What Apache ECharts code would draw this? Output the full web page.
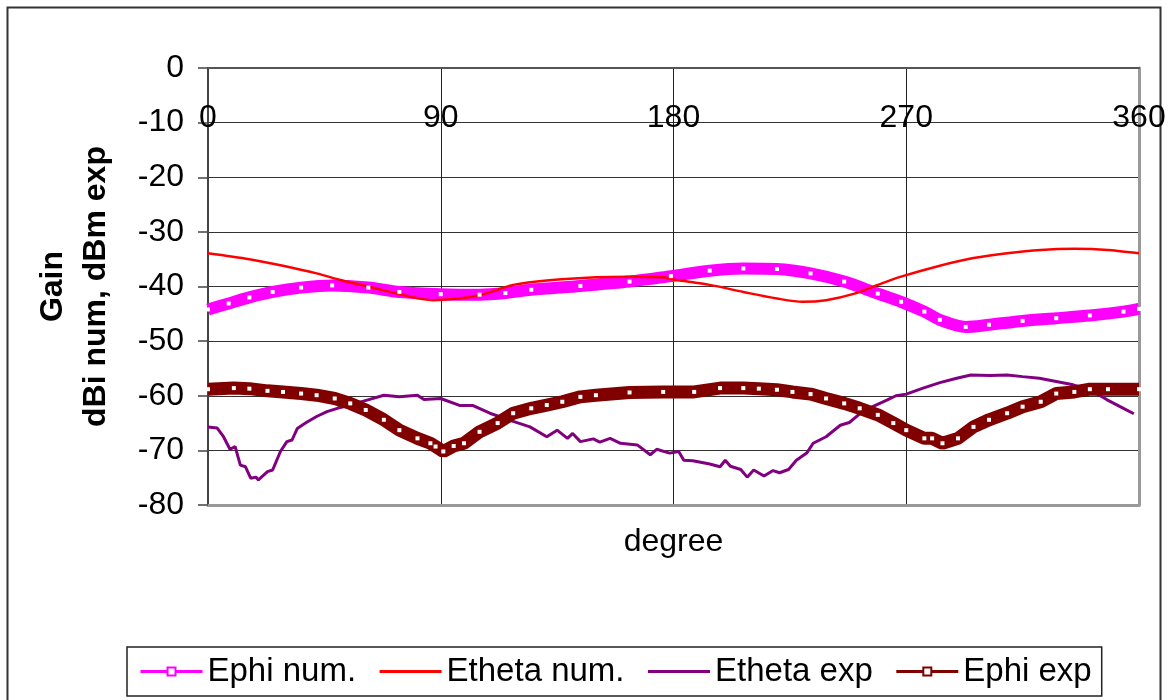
<!DOCTYPE html>
<html><head><meta charset="utf-8">
<script src="https://cdn.jsdelivr.net/npm/echarts@6/dist/echarts.min.js"></script>
<style>html,body{margin:0;padding:0;background:#fff}#c{width:1172px;height:700px}</style>
</head><body><div id="c"></div>
<script>
// ---- data ----
const seriesNames = ['Ephi num.', 'Etheta num.', 'Etheta exp', 'Ephi exp'];
const xTickLabels = [0, 90, 180, 270, 360];
const yTickLabels = [0, -10, -20, -30, -40, -50, -60, -70, -80];

const ephiNumDeg = [0, 8, 16, 25, 36, 48, 62, 74, 90, 105, 115, 125, 144, 163, 179, 194, 207, 220, 233, 246, 259, 268, 277, 283, 293, 302, 315, 328, 341, 354, 360];
const ephiNumVal = [-44.2, -43.1, -42.0, -41.0, -40.2, -39.8, -40.2, -41.0, -41.4, -41.5, -41.2, -40.6, -39.9, -39.1, -38.1, -37.1, -36.7, -36.8, -37.6, -39.1, -41.3, -42.8, -44.6, -46.1, -47.4, -47.0, -46.3, -45.8, -45.3, -44.6, -44.1];

const ethetaNumDeg = [0, 16, 29, 42, 52, 62, 74, 87, 95, 105, 112, 118, 131, 150, 163, 176, 180, 194, 207, 220, 230, 239, 250, 259, 268, 283, 296, 309, 322, 335, 348, 360];
const ethetaNumVal = [-33.9, -35.0, -36.2, -37.6, -38.9, -40.0, -41.4, -42.5, -42.3, -41.6, -40.6, -39.7, -38.9, -38.3, -38.2, -38.3, -38.7, -39.7, -41.0, -42.2, -42.8, -42.5, -41.3, -39.7, -38.2, -36.2, -34.8, -33.9, -33.3, -33.1, -33.3, -33.9];

const ethetaExpDeg = [0, 3.5, 6, 8.5, 10.5, 12.5, 14.5, 16.5, 18.5, 19.5, 23, 25, 28, 30.5, 32.5, 34.5, 38, 42, 46, 50, 55, 61.5, 68, 74, 81, 83.5, 90, 97.5, 102.5, 109, 118, 124.5, 131, 135, 139, 141, 144, 149, 151.5, 155.5, 159.5, 166, 171, 173.5, 178.5, 182, 184, 187.5, 194, 198, 200, 202, 206, 208.5, 211, 215, 218.5, 221, 224.5, 227.5, 231.5, 234, 239, 244.5, 248, 252, 257, 262.5, 266, 270, 276.5, 283, 289.5, 295, 302.5, 309, 315, 321.5, 328, 334.5, 341, 347.5, 354, 358];
const ethetaExpVal = [-65.7, -65.9, -67.5, -69.8, -69.3, -72.7, -73.0, -75.1, -74.9, -75.4, -73.9, -73.6, -70.2, -68.4, -68.1, -66.0, -64.9, -63.8, -62.9, -62.3, -61.7, -60.8, -59.9, -60.2, -59.9, -60.7, -60.5, -61.8, -61.8, -63.2, -64.7, -65.7, -67.5, -66.3, -67.8, -66.9, -68.4, -67.9, -68.5, -67.8, -68.7, -69.0, -70.8, -69.8, -70.5, -70.2, -71.8, -71.9, -72.5, -73.0, -71.8, -72.9, -73.5, -74.9, -73.6, -74.7, -73.7, -74.1, -73.5, -71.8, -70.5, -68.7, -67.5, -65.4, -64.9, -63.3, -62.0, -60.8, -60.0, -59.7, -58.6, -57.6, -56.8, -56.2, -56.3, -56.2, -56.5, -56.8, -57.4, -58.0, -58.9, -60.7, -62.3, -63.3];

const ephiExpDeg = [0, 10, 16, 23, 29, 36, 42, 49, 55, 61, 68, 74, 81, 86, 88, 91, 95, 99, 105, 112, 118, 125, 131, 137, 144, 150, 163, 176, 188, 198, 207, 213, 220, 226, 233, 239, 246, 252, 259, 265, 270, 277, 280, 284, 290, 296, 302, 309, 315, 322, 328, 335, 341, 348, 360];
const ephiExpVal = [-58.8, -58.6, -58.7, -59.1, -59.3, -59.6, -59.9, -60.5, -61.4, -62.6, -64.4, -66.3, -67.8, -68.7, -69.3, -70.2, -69.2, -68.7, -66.6, -65.0, -63.2, -62.3, -61.7, -61.1, -60.2, -59.9, -59.4, -59.3, -59.3, -58.6, -58.6, -58.7, -58.9, -59.3, -59.7, -60.5, -61.4, -62.3, -63.5, -65.0, -66.3, -67.8, -67.8, -68.7, -67.8, -65.7, -64.4, -63.2, -62.0, -61.1, -59.6, -59.3, -58.8, -58.8, -58.8];

// ---- chart ----
const zip = (a, b) => a.map((d, i) => [d, b[i]]);
const FONT = 'Liberation Sans, Arial, sans-serif';
const chart = echarts.init(document.getElementById('c'), null, {renderer: 'canvas'});

const option = {
  animation: false,
  backgroundColor: '#fff',
  textStyle: {fontFamily: FONT, color: '#000'},
  graphic: [{
    type: 'rect', silent: true,
    shape: {x: 7.5, y: 7.5, width: 1153, height: 700},
    style: {fill: null, stroke: '#333', lineWidth: 2}
  }],
  grid: {left: 208, right: 33, top: 68, bottom: 195, containLabel: false},
  legend: {
    left: 127, top: 647, orient: 'horizontal',
    padding: [8, 10, 8, 12],
    borderColor: '#222', borderWidth: 1.5,
    itemWidth: 62, itemHeight: 10, itemGap: 22,
    textStyle: {fontSize: 33, color: '#000', fontFamily: FONT},
    data: [
      {name: seriesNames[0], itemStyle: {color: '#fff', borderColor: '#FF00FF', borderWidth: 2}, lineStyle: {width: 3, color: '#FF00FF'}},
      {name: seriesNames[1], itemStyle: {opacity: 0}, lineStyle: {width: 3, color: '#FF0000'}},
      {name: seriesNames[2], itemStyle: {opacity: 0}, lineStyle: {width: 3, color: '#800080'}},
      {name: seriesNames[3], itemStyle: {color: '#fff', borderColor: '#800000', borderWidth: 2}, lineStyle: {width: 3, color: '#800000'}}
    ]
  },
  xAxis: [{
    type: 'value', position: 'top', min: xTickLabels[0], max: xTickLabels[xTickLabels.length - 1], interval: 90,
    axisLine: {show: true, onZero: false, lineStyle: {color: '#555', width: 2}},
    axisTick: {show: false},
    axisLabel: {inside: true, margin: 34, fontSize: 32, color: '#000', fontFamily: FONT},
    splitLine: {show: true, lineStyle: {color: '#222', width: 1}}
  }, {
    type: 'value', position: 'bottom', min: 0, max: 360, interval: 90,
    name: 'degree', nameLocation: 'middle', nameGap: 21,
    nameTextStyle: {fontSize: 32, color: '#000', fontFamily: FONT},
    axisLine: {show: true, onZero: false, lineStyle: {color: '#999', width: 3}},
    axisTick: {show: false}, axisLabel: {show: false}, splitLine: {show: false}
  }],
  yAxis: [{
    type: 'value', position: 'left', min: yTickLabels[yTickLabels.length - 1], max: yTickLabels[0], interval: 10,
    name: 'Gain\ndBi num, dBm exp', nameLocation: 'middle', nameGap: 90, nameRotate: 90,
    nameTextStyle: {fontSize: 32, fontWeight: 'bold', lineHeight: 43, color: '#000', fontFamily: FONT, align: 'center'},
    axisLine: {show: true, onZero: false, lineStyle: {color: '#444', width: 2}},
    axisTick: {show: true, inside: false, length: 10, lineStyle: {color: '#444', width: 1.5}},
    axisLabel: {margin: 24, fontSize: 32, color: '#000', fontFamily: FONT},
    splitLine: {show: true, lineStyle: {color: '#333', width: 1.2}}
  }, {
    type: 'value', position: 'right', min: -80, max: 0, interval: 10,
    axisLine: {show: true, onZero: false, lineStyle: {color: '#999', width: 3}},
    axisTick: {show: false}, axisLabel: {show: false}, splitLine: {show: false}
  }],
  series: [{
    name: seriesNames[0], type: 'line', xAxisIndex: 0, yAxisIndex: 0,
    data: zip(ephiNumDeg, ephiNumVal), smooth: 0.3,
    lineStyle: {color: '#FF00FF', width: 12},
    symbol: 'rect', symbolSize: 4, showAllSymbol: true,
    itemStyle: {color: '#fff', borderColor: '#FF00FF', borderWidth: 0}
  }, {
    name: seriesNames[1], type: 'line', xAxisIndex: 0, yAxisIndex: 0,
    data: zip(ethetaNumDeg, ethetaNumVal), smooth: 0.3,
    lineStyle: {color: '#FF0000', width: 2.5}, itemStyle: {color: '#FF0000'},
    symbol: 'none'
  }, {
    name: seriesNames[2], type: 'line', xAxisIndex: 0, yAxisIndex: 0,
    data: zip(ethetaExpDeg, ethetaExpVal),
    lineStyle: {color: '#800080', width: 3}, itemStyle: {color: '#800080'},
    symbol: 'none'
  }, {
    name: seriesNames[3], type: 'line', xAxisIndex: 0, yAxisIndex: 0,
    data: zip(ephiExpDeg, ephiExpVal),
    lineStyle: {color: '#800000', width: 13},
    symbol: 'rect', symbolSize: 4, showAllSymbol: true,
    itemStyle: {color: '#fff', borderColor: '#800000', borderWidth: 0}
  }]
};
chart.setOption(option);
</script>
</body></html>
